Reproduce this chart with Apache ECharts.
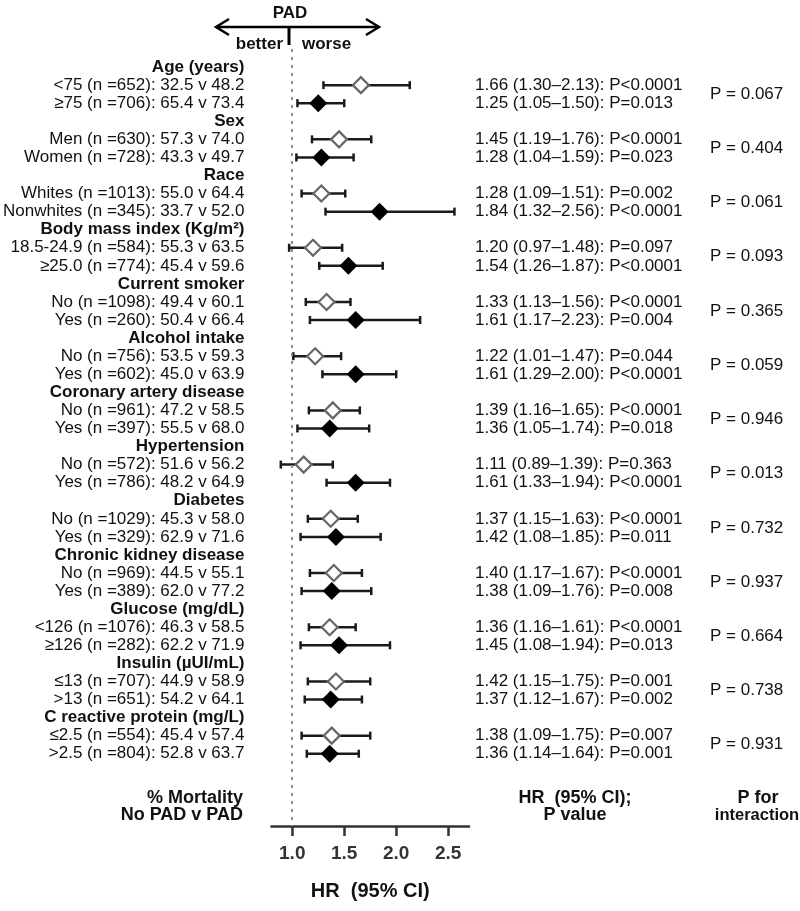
<!DOCTYPE html>
<html><head><meta charset="utf-8">
<script src="https://cdn.jsdelivr.net/npm/echarts@6/dist/echarts.min.js"></script>
<style>html,body{margin:0;padding:0;background:#fff}#c{width:800px;height:911px}</style>
</head><body><div id="c"></div>
<script>
const groupNames = ['Age (years)', 'Sex', 'Race', 'Body mass index (Kg/m\u00b2)', 'Current smoker', 'Alcohol intake', 'Coronary artery disease', 'Hypertension', 'Diabetes', 'Chronic kidney disease', 'Glucose (mg/dL)', 'Insulin (\u00b5UI/mL)', 'C reactive protein (mg/L)'];
const sub1Labels = ['<75 (n =652): 32.5 v 48.2', 'Men (n =630): 57.3 v 74.0', 'Whites (n =1013): 55.0 v 64.4', '18.5-24.9 (n =584): 55.3 v 63.5', 'No (n =1098): 49.4 v 60.1', 'No (n =756): 53.5 v 59.3', 'No (n =961): 47.2 v 58.5', 'No (n =572): 51.6 v 56.2', 'No (n =1029): 45.3 v 58.0', 'No (n =969): 44.5 v 55.1', '<126 (n =1076): 46.3 v 58.5', '\u226413 (n =707): 44.9 v 58.9', '\u22642.5 (n =554): 45.4 v 57.4'];
const sub2Labels = ['\u226575 (n =706): 65.4 v 73.4', 'Women (n =728): 43.3 v 49.7', 'Nonwhites (n =345): 33.7 v 52.0', '\u226525.0 (n =774): 45.4 v 59.6', 'Yes (n =260): 50.4 v 66.4', 'Yes (n =602): 45.0 v 63.9', 'Yes (n =397): 55.5 v 68.0', 'Yes (n =786): 48.2 v 64.9', 'Yes (n =329): 62.9 v 71.6', 'Yes (n =389): 62.0 v 77.2', '\u2265126 (n =282): 62.2 v 71.9', '>13 (n =651): 54.2 v 64.1', '>2.5 (n =804): 52.8 v 63.7'];
const hr1 = [1.66, 1.45, 1.28, 1.20, 1.33, 1.22, 1.39, 1.11, 1.37, 1.40, 1.36, 1.42, 1.38];
const lo1 = [1.30, 1.19, 1.09, 0.97, 1.13, 1.01, 1.16, 0.89, 1.15, 1.17, 1.16, 1.15, 1.09];
const hi1 = [2.13, 1.76, 1.51, 1.48, 1.56, 1.47, 1.65, 1.39, 1.63, 1.67, 1.61, 1.75, 1.75];
const p1 = ['P<0.0001', 'P<0.0001', 'P=0.002', 'P=0.097', 'P<0.0001', 'P=0.044', 'P<0.0001', 'P=0.363', 'P<0.0001', 'P<0.0001', 'P<0.0001', 'P=0.001', 'P=0.007'];
const hr2 = [1.25, 1.28, 1.84, 1.54, 1.61, 1.61, 1.36, 1.61, 1.42, 1.38, 1.45, 1.37, 1.36];
const lo2 = [1.05, 1.04, 1.32, 1.26, 1.17, 1.29, 1.05, 1.33, 1.08, 1.09, 1.08, 1.12, 1.14];
const hi2 = [1.50, 1.59, 2.56, 1.87, 2.23, 2.00, 1.74, 1.94, 1.85, 1.76, 1.94, 1.67, 1.64];
const p2 = ['P=0.013', 'P=0.023', 'P<0.0001', 'P<0.0001', 'P=0.004', 'P<0.0001', 'P=0.018', 'P<0.0001', 'P=0.011', 'P=0.008', 'P=0.013', 'P=0.002', 'P=0.001'];
const pInteraction = ['0.067', '0.404', '0.061', '0.093', '0.365', '0.059', '0.946', '0.013', '0.732', '0.937', '0.664', '0.738', '0.931'];
const xTicks = [1.0, 1.5, 2.0, 2.5];

const FONT = 'Liberation Sans, Arial, sans-serif';
const fmt = (h, l, u, p) => h.toFixed(2) + ' (' + l.toFixed(2) + '\u2013' + u.toFixed(2) + '): ' + p;

const leftText = [], leftHead = [], hrText = [];
const ciData = [], openPts = [], filledPts = [];
groupNames.forEach((g, i) => {
  leftText.push(g); leftHead.push(true); hrText.push('');
  leftText.push(sub1Labels[i]); leftHead.push(false); hrText.push(fmt(hr1[i], lo1[i], hi1[i], p1[i]));
  leftText.push(sub2Labels[i]); leftHead.push(false); hrText.push(fmt(hr2[i], lo2[i], hi2[i], p2[i]));
  ciData.push([lo1[i], hi1[i], 3 * i + 1]);
  ciData.push([lo2[i], hi2[i], 3 * i + 2]);
  openPts.push([hr1[i], 3 * i + 1]);
  filledPts.push([hr2[i], 3 * i + 2]);
});
const nRows = leftText.length;

const chart = echarts.init(document.getElementById('c'), null, {renderer: 'canvas'});

const yBase = {
  type: 'value', min: -1, max: 42, inverse: true, interval: 1,
  axisLine: {show: false, onZero: false}, axisTick: {show: false}, splitLine: {show: false}
};

const txt = (x, y, text, align, size, bold) => ({
  type: 'text', x: x, y: y,
  style: {text: text, fill: '#111', font: (bold ? 'bold ' : '') + size + 'px ' + FONT, textAlign: align, textVerticalAlign: 'middle'}
});

chart.setOption({
  animation: false,
  backgroundColor: '#fff',
  grid: {left: 270, right: 331, top: 49, bottom: 85, containLabel: false},
  xAxis: {
    type: 'value', min: 0.8, max: 2.7,
    name: 'HR  (95% CI)', nameLocation: 'middle', nameGap: 55,
    nameTextStyle: {fontFamily: FONT, fontWeight: 'bold', fontSize: 20, color: '#111'},
    axisLine: {onZero: false, lineStyle: {color: '#333', width: 2.5}},
    axisTick: {show: true, length: 10, lineStyle: {color: '#333', width: 2.5}, customValues: xTicks},
    axisLabel: {customValues: xTicks, margin: 18, fontFamily: FONT, fontWeight: 'bold', fontSize: 19, color: '#333', formatter: v => v.toFixed(1)},
    splitLine: {show: false}
  },
  yAxis: [
    Object.assign({}, yBase, {
      position: 'left',
      axisLabel: {
        margin: 27, fontFamily: FONT, fontSize: 17, color: '#111',
        formatter: v => {
          const i = Math.round(v);
          if (i < 0 || i >= nRows || Math.abs(v - i) > 1e-6) return '';
          return leftHead[i] ? '{h|' + leftText[i] + '}' : leftText[i];
        },
        rich: {h: {fontFamily: FONT, fontSize: 17, fontWeight: 'bold', color: '#111'}}
      }
    }),
    Object.assign({}, yBase, {
      position: 'right', offset: 0,
      axisLabel: {
        margin: 6, fontFamily: FONT, fontSize: 17, color: '#111', align: 'left',
        formatter: v => {
          const i = Math.round(v);
          if (i < 0 || i >= nRows || Math.abs(v - i) > 1e-6) return '';
          return hrText[i];
        }
      }
    }),
    Object.assign({}, yBase, {
      position: 'right', offset: 235, interval: 0.5,
      axisLabel: {
        margin: 6, fontFamily: FONT, fontSize: 17, color: '#111', align: 'left',
        formatter: v => {
          const g = (v - 1.5) / 3;
          const gi = Math.round(g);
          if (Math.abs(g - gi) > 1e-6 || gi < 0 || gi >= pInteraction.length) return '';
          return 'P = ' + pInteraction[gi];
        }
      }
    })
  ],
  series: [
    {
      type: 'line', data: [], z: 1, silent: true,
      markLine: {
        silent: true, symbol: 'none', label: {show: false},
        lineStyle: {color: '#8c8c8c', width: 2, type: [3, 5]},
        data: [{xAxis: 1}]
      }
    },
    {
      type: 'custom', z: 3, data: ciData, encode: {x: [0, 1], y: 2},
      renderItem: (params, api) => {
        const y = api.value(2);
        const a = api.coord([api.value(0), y]);
        const b = api.coord([api.value(1), y]);
        const st = {stroke: '#1a1a1a', lineWidth: 2.5};
        return {type: 'group', children: [
          {type: 'line', shape: {x1: a[0], y1: a[1], x2: b[0], y2: b[1]}, style: st},
          {type: 'line', shape: {x1: a[0], y1: a[1] - 4, x2: a[0], y2: a[1] + 4}, style: st},
          {type: 'line', shape: {x1: b[0], y1: b[1] - 4, x2: b[0], y2: b[1] + 4}, style: st}
        ]};
      }
    },
    {
      type: 'scatter', z: 5, data: openPts, symbol: 'diamond', symbolSize: 16,
      itemStyle: {color: '#fff', borderColor: '#666', borderWidth: 2.2, opacity: 1}
    },
    {
      type: 'scatter', z: 5, data: filledPts, symbol: 'diamond', symbolSize: 18,
      itemStyle: {color: '#000', opacity: 1}
    }
  ],
  graphic: [
    txt(290, 13, 'PAD', 'center', 17, true),
    {type: 'line', shape: {x1: 216, y1: 27, x2: 379, y2: 27}, style: {stroke: '#000', lineWidth: 2.5}},
    {type: 'polyline', shape: {points: [[229, 19], [216, 27], [229, 35]]}, style: {stroke: '#000', lineWidth: 2.5, fill: null}},
    {type: 'polyline', shape: {points: [[366, 19], [379, 27], [366, 35]]}, style: {stroke: '#000', lineWidth: 2.5, fill: null}},
    {type: 'line', shape: {x1: 289, y1: 27, x2: 289, y2: 45}, style: {stroke: '#000', lineWidth: 3}},
    txt(283, 44, 'better', 'right', 17, true),
    txt(302, 44, 'worse', 'left', 17, true),
    txt(243, 798, '% Mortality', 'right', 18, true),
    txt(243, 815, 'No PAD v PAD', 'right', 18, true),
    txt(575, 798, 'HR  (95% CI);', 'center', 18, true),
    txt(575, 815, 'P value', 'center', 18, true),
    txt(758, 798, 'P for', 'center', 18, true),
    txt(757, 815, 'interaction', 'center', 16.5, true)
  ]
});
</script>
</body></html>
